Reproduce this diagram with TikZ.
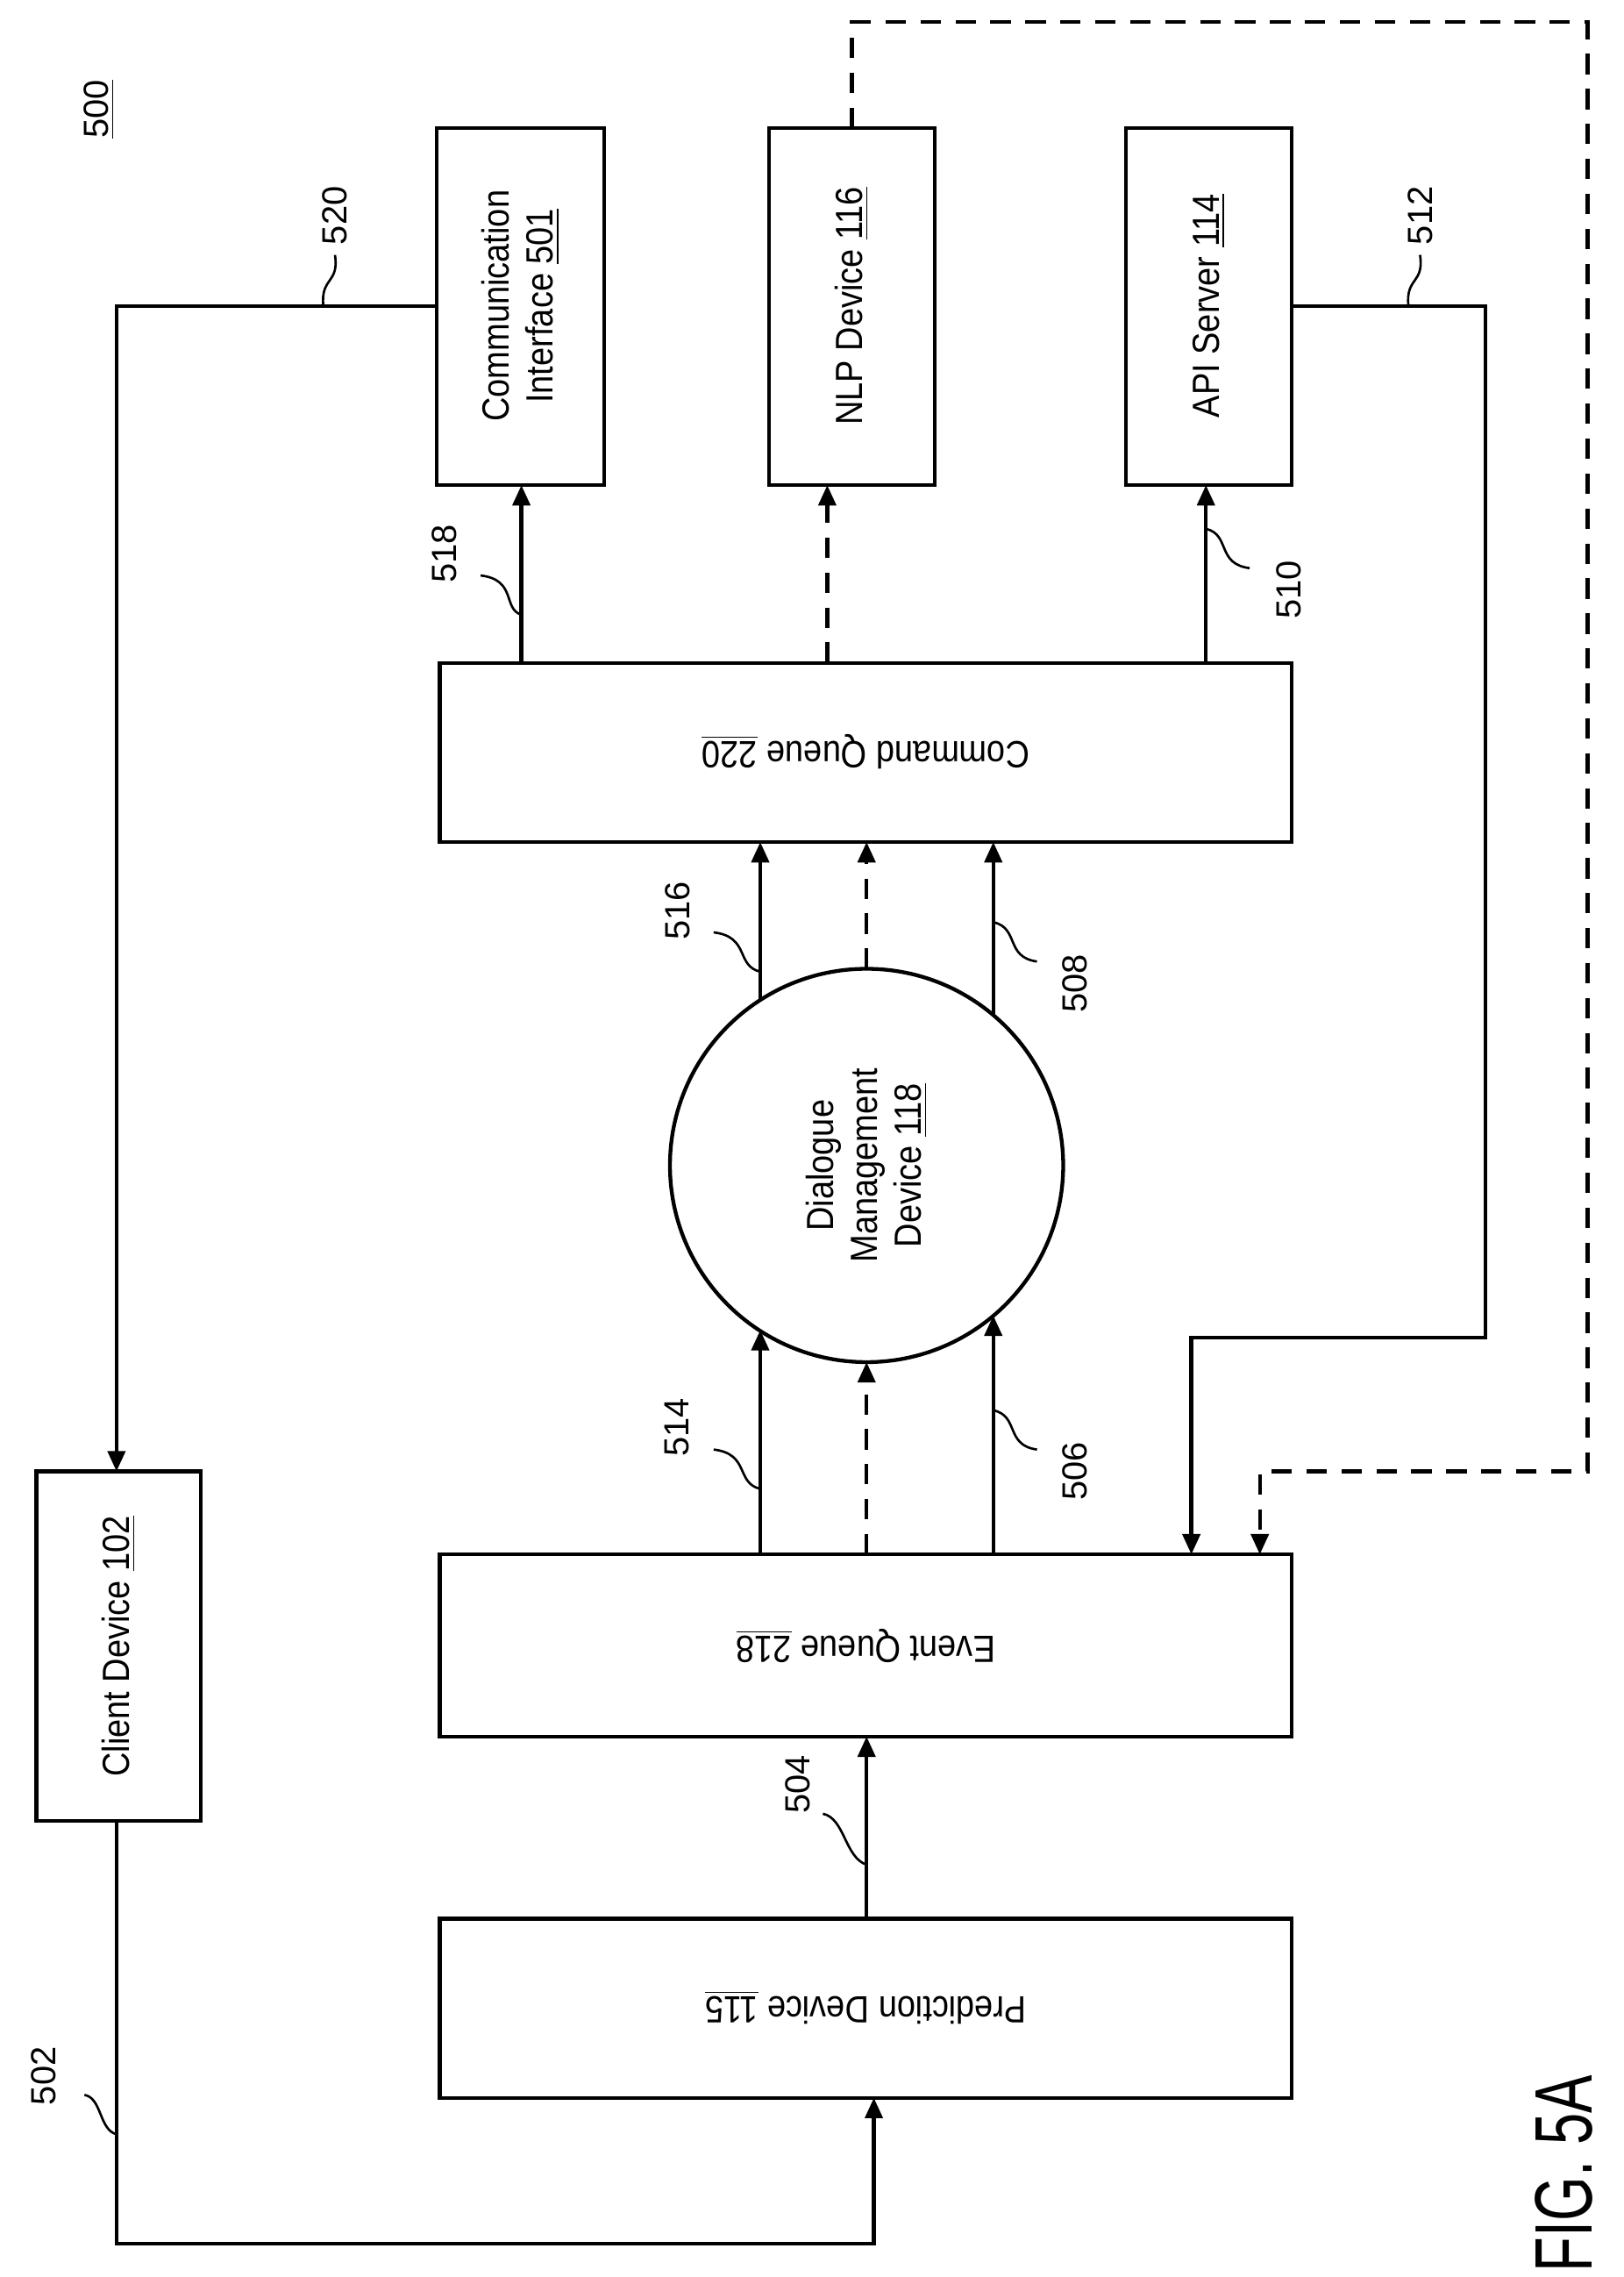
\documentclass[tikz,border=0pt]{standalone}
\usepackage{fontspec}
\setmainfont{Liberation Sans}
\usetikzlibrary{arrows.meta,calc}
\begin{document}
\begin{tikzpicture}[x={0.5pt},y={-0.5pt},
  box/.style={draw,line width=1.3pt,inner sep=0pt},
  ln/.style={line width=1.3pt},
  arr/.style={ln,-{Triangle[length=7pt,width=6pt]}},
  dsh/.style={dash pattern=on 7pt off 5pt},
  txt/.style={font=\fontsize{13}{15}\selectfont,align=center},
  lab/.style={font=\fontsize{12}{14}\selectfont,rotate=90},
  sq/.style={line width=0.8pt}]
\useasboundingbox (0,0) rectangle (1115,1563);
% boxes
\draw[box] (25,1010) rectangle (138,1250); \node[txt,rotate=90] (cd) at (81.5,1130) {\scalebox{0.88}[1]{Client Device \underline{102}}};
\draw[box] (302,1317) rectangle (887,1440); \node[txt,rotate=180] (pd) at (594.5,1378) {\scalebox{0.88}[1]{Prediction Device \underline{115}}};
\draw[box] (302,1067) rectangle (887,1192); \node[txt,rotate=180] (eq) at (594.5,1130) {\scalebox{0.88}[1]{Event Queue \underline{218}}};
\draw[box] (302,455) rectangle (887,578); \node[txt,rotate=180] (cq) at (594.5,516) {\scalebox{0.88}[1]{Command Queue \underline{220}}};
\draw[box] (300,88) rectangle (415,333); \node[txt,rotate=90] (ci) at (357.5,210) {\scalebox{0.88}[1]{Communication}\\\scalebox{0.88}[1]{Interface \underline{501}}};
\draw[box] (528,88) rectangle (642,333); \node[txt,rotate=90] (nlp) at (585,210) {\scalebox{0.88}[1]{NLP Device \underline{116}}};
\draw[box] (773,88) rectangle (887,333); \node[txt,rotate=90] (api) at (830,210) {\scalebox{0.88}[1]{API Server \underline{114}}};
\draw[ln] (595,800) circle (135);
\node[txt,rotate=90] (dm) at (595,800) {\scalebox{0.88}[1]{Dialogue}\\\scalebox{0.88}[1]{Management}\\\scalebox{0.88}[1]{Device \underline{118}}};
\node[lab] (n500) at (68,75) {\underline{500}};
\node[font=\fontsize{28}{32}\selectfont,rotate=90,inner sep=0pt] (fig) at (1074,1492) {\scalebox{0.7}[1]{FIG. 5A}};
% connectors
\draw[arr] (80,1250) -- (80,1540) -- (600,1540) -- (600,1440);
\draw[arr] (595,1317) -- (595,1192);
\draw[arr] (522,1067) -- (522,913);
\draw[arr,dsh] (595,1067) -- (595,935);
\draw[arr] (682,1067) -- (682,903);
\draw[arr] (522,687) -- (522,578);
\draw[arr,dsh] (595,665) -- (595,578);
\draw[arr] (682,697) -- (682,578);
\draw[arr] (358,455) -- (358,333);
\draw[arr,dsh] (568,455) -- (568,333);
\draw[arr] (828,455) -- (828,333);
\draw[arr] (300,210) -- (80,210) -- (80,1010);
\draw[arr] (887,210) -- (1020,210) -- (1020,918) -- (818,918) -- (818,1067);
\draw[arr,dsh] (585,88) -- (585,15) -- (1090,15) -- (1090,1010) -- (865,1010) -- (865,1067);
% labels
\node[lab] at (30,1425) {502}; \draw[sq] (58,1438) .. controls (70,1440) and (68,1462) .. (80,1465);
\node[lab] at (548,1225) {504}; \draw[sq] (565,1245) .. controls (580,1248) and (580,1275) .. (595,1280);
\node[lab] at (465,980) {514}; \draw[sq] (490,995) .. controls (515,998) and (505,1018) .. (522,1022);
\node[lab] at (738,1010) {506}; \draw[sq] (712,995) .. controls (690,992) and (700,972) .. (682,968);
\node[lab] at (465,625) {516}; \draw[sq] (490,640) .. controls (515,643) and (505,663) .. (522,667);
\node[lab] at (738,675) {508}; \draw[sq] (712,660) .. controls (690,657) and (700,637) .. (682,633);
\node[lab] at (305,380) {518}; \draw[sq] (330,395) .. controls (355,398) and (345,418) .. (358,422);
\node[lab] at (885,405) {510}; \draw[sq] (858,390) .. controls (835,387) and (845,367) .. (828,363);
\node[lab] at (230,148) {520}; \draw[sq] (230,175) .. controls (233,195) and (220,190) .. (222,210);
\node[lab] at (975,148) {512}; \draw[sq] (975,175) .. controls (978,195) and (965,190) .. (967,210);
\end{tikzpicture}
\end{document}
